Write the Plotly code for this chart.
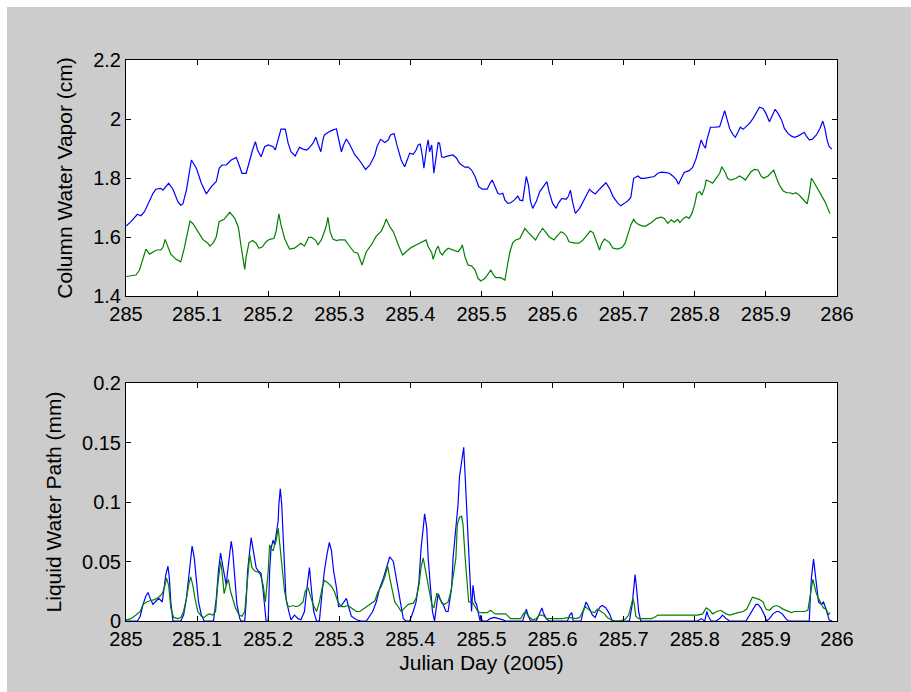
import plotly.graph_objects as go

# ---------------- data ----------------
# Top panel: column water vapor (cm)
cwv_blue_day = [
    285.000, 285.007, 285.016, 285.021, 285.026, 285.033, 285.038, 285.042, 285.049, 285.052,
    285.056, 285.060, 285.066, 285.073, 285.077, 285.080, 285.085, 285.089, 285.092, 285.099,
    285.106, 285.113, 285.120, 285.127, 285.131, 285.135, 285.141, 285.148, 285.155, 285.160,
    285.163, 285.169, 285.174, 285.178, 285.182, 285.185, 285.190, 285.195, 285.200, 285.207,
    285.210, 285.214, 285.218, 285.224, 285.228, 285.232, 285.238, 285.244, 285.249, 285.254,
    285.258, 285.263, 285.267, 285.270, 285.274, 285.277, 285.279, 285.284, 285.291, 285.296,
    285.299, 285.303, 285.306, 285.310, 285.315, 285.322, 285.328, 285.333, 285.337, 285.343,
    285.350, 285.353, 285.358, 285.364, 285.369, 285.372, 285.377, 285.381, 285.387, 285.392,
    285.395, 285.399, 285.404, 285.408, 285.411, 285.414, 285.417, 285.419, 285.423, 285.425,
    285.427, 285.430, 285.433, 285.436, 285.439, 285.441, 285.444, 285.447, 285.453, 285.460,
    285.465, 285.469, 285.477, 285.481, 285.486, 285.491, 285.495,
    285.496, 285.501, 285.508, 285.512, 285.515, 285.519, 285.523, 285.526, 285.530, 285.533,
    285.537, 285.541, 285.546, 285.551, 285.554, 285.558, 285.561, 285.563, 285.566, 285.569,
    285.572, 285.577, 285.582, 285.588, 285.592, 285.595, 285.600, 285.605, 285.608, 285.613,
    285.619, 285.622, 285.625, 285.628, 285.632, 285.638, 285.645, 285.652, 285.655, 285.660,
    285.666, 285.670, 285.675, 285.680, 285.685, 285.692, 285.696, 285.701, 285.706, 285.710,
    285.714, 285.720, 285.724, 285.729, 285.736, 285.743, 285.748, 285.753, 285.760, 285.764,
    285.769, 285.774, 285.777, 285.781, 285.785, 285.792, 285.797, 285.802, 285.806, 285.809,
    285.812, 285.815, 285.817, 285.822, 285.828, 285.835, 285.838, 285.842, 285.845, 285.849,
    285.854, 285.857, 285.861, 285.864, 285.868, 285.872, 285.877, 285.882, 285.887, 285.891,
    285.896, 285.900, 285.905, 285.909, 285.913, 285.917, 285.922, 285.926, 285.931, 285.936,
    285.940, 285.945, 285.950, 285.954, 285.957, 285.961, 285.965, 285.971, 285.976, 285.980,
    285.983, 285.986, 285.989, 285.993,
]
cwv_blue = [
    1.637, 1.652, 1.677, 1.672, 1.686, 1.725, 1.748, 1.762, 1.765, 1.759,
    1.771, 1.782, 1.762, 1.720, 1.708, 1.712, 1.759, 1.821, 1.861, 1.833,
    1.782, 1.746, 1.771, 1.788, 1.833, 1.844, 1.844, 1.861, 1.870, 1.838,
    1.816, 1.816, 1.861, 1.895, 1.923, 1.895, 1.872, 1.906, 1.912, 1.906,
    1.895, 1.934, 1.966, 1.966, 1.918, 1.889, 1.875, 1.904, 1.898, 1.895,
    1.903, 1.918, 1.938, 1.915, 1.889, 1.929, 1.946, 1.954, 1.963, 1.966,
    1.929, 1.889, 1.912, 1.932, 1.912, 1.878, 1.861, 1.844, 1.829, 1.844,
    1.878, 1.906, 1.931, 1.920, 1.929, 1.946, 1.951, 1.912, 1.861, 1.838,
    1.861, 1.884, 1.880, 1.895, 1.912, 1.915, 1.872, 1.833, 1.906, 1.929,
    1.889, 1.912, 1.816, 1.872, 1.920, 1.918, 1.872, 1.870, 1.875, 1.878,
    1.867, 1.850, 1.836, 1.838, 1.827, 1.805, 1.771,
    1.771, 1.762, 1.762, 1.782, 1.793, 1.771, 1.748, 1.745, 1.748, 1.725,
    1.714, 1.716, 1.725, 1.739, 1.725, 1.723, 1.776, 1.805, 1.776, 1.720,
    1.697, 1.720, 1.754, 1.776, 1.788, 1.754, 1.714, 1.697, 1.714, 1.731,
    1.728, 1.737, 1.759, 1.720, 1.680, 1.697, 1.731, 1.762, 1.754, 1.746,
    1.762, 1.771, 1.784, 1.765, 1.737, 1.714, 1.706, 1.714, 1.723, 1.734,
    1.799, 1.807, 1.799, 1.799, 1.801, 1.805, 1.816, 1.820, 1.818, 1.816,
    1.807, 1.795, 1.779, 1.799, 1.819, 1.825, 1.836, 1.867, 1.901, 1.929,
    1.912, 1.901, 1.929, 1.972, 1.972, 1.974, 1.997, 2.028, 2.002, 1.968,
    1.946, 1.938, 1.957, 1.972, 1.965, 1.974, 1.985, 2.002, 2.025, 2.040,
    2.036, 2.019, 1.991, 2.014, 2.033, 2.019, 1.997, 1.968, 1.951, 1.942,
    1.938, 1.942, 1.949, 1.955, 1.942, 1.929, 1.931, 1.946, 1.968, 1.993,
    1.968, 1.929, 1.906, 1.898,
]

cwv_green_day = [
    285.000, 285.007, 285.014, 285.019, 285.023, 285.028, 285.033, 285.038, 285.043, 285.049,
    285.052, 285.055, 285.059, 285.063, 285.070, 285.077, 285.082, 285.087, 285.090, 285.094,
    285.101, 285.108, 285.115, 285.118, 285.123, 285.127, 285.131, 285.138, 285.143, 285.146,
    285.153, 285.158, 285.162, 285.167, 285.169, 285.173, 285.178, 285.183, 285.187, 285.192,
    285.197, 285.202, 285.208, 285.211, 285.215, 285.218, 285.223, 285.230, 285.237, 285.242,
    285.246, 285.251, 285.257, 285.261, 285.267, 285.270, 285.275, 285.279, 285.282, 285.284,
    285.287, 285.291, 285.296, 285.300, 285.308, 285.315, 285.321, 285.326, 285.332, 285.338,
    285.345, 285.352, 285.359, 285.363, 285.366, 285.371, 285.376, 285.383, 285.389, 285.394,
    285.401, 285.408, 285.415, 285.422, 285.425, 285.430, 285.432, 285.436, 285.439, 285.442,
    285.445, 285.448, 285.453, 285.460, 285.467, 285.471, 285.473, 285.477, 285.481, 285.486,
    285.491, 285.495,
    285.499, 285.505, 285.510, 285.513, 285.516, 285.520, 285.527, 285.533, 285.537, 285.540,
    285.544, 285.548, 285.554, 285.558, 285.561, 285.566, 285.571, 285.576, 285.581, 285.586,
    285.591, 285.595, 285.602, 285.606, 285.612, 285.616, 285.620, 285.623, 285.631, 285.637,
    285.642, 285.648, 285.653, 285.657, 285.662, 285.666, 285.669, 285.673, 285.680, 285.685,
    285.692, 285.698, 285.702, 285.707, 285.710, 285.714, 285.717, 285.722, 285.727, 285.731,
    285.739, 285.746, 285.753, 285.757, 285.762, 285.767, 285.771, 285.776, 285.779, 285.784,
    285.788, 285.792, 285.796, 285.800, 285.803, 285.807, 285.810, 285.814, 285.816, 285.821,
    285.825, 285.830, 285.835, 285.838, 285.843, 285.846, 285.851, 285.858, 285.863, 285.868,
    285.871, 285.875, 285.879, 285.884, 285.889, 285.893, 285.897, 285.903, 285.908, 285.911,
    285.915, 285.919, 285.924, 285.929, 285.933, 285.938, 285.942, 285.947, 285.952, 285.958,
    285.961, 285.964, 285.968, 285.973, 285.978, 285.983, 285.987, 285.990,
]
cwv_green = [
    1.466, 1.468, 1.471, 1.488, 1.522, 1.559, 1.542, 1.550, 1.556, 1.556,
    1.565, 1.592, 1.567, 1.542, 1.525, 1.516, 1.562, 1.618, 1.654, 1.646,
    1.618, 1.592, 1.579, 1.569, 1.581, 1.601, 1.652, 1.660, 1.675, 1.684,
    1.663, 1.633, 1.567, 1.490, 1.533, 1.581, 1.588, 1.579, 1.562, 1.567,
    1.584, 1.592, 1.595, 1.618, 1.678, 1.641, 1.595, 1.559, 1.562, 1.573,
    1.579, 1.569, 1.599, 1.599, 1.588, 1.573, 1.592, 1.618, 1.641, 1.667,
    1.618, 1.593, 1.588, 1.590, 1.590, 1.567, 1.548, 1.545, 1.505, 1.550,
    1.573, 1.603, 1.620, 1.641, 1.661, 1.635, 1.618, 1.573, 1.539, 1.550,
    1.564, 1.573, 1.581, 1.590, 1.567, 1.547, 1.524, 1.556, 1.569, 1.547,
    1.539, 1.550, 1.562, 1.556, 1.550, 1.562, 1.573, 1.531, 1.505, 1.502,
    1.488, 1.460,
    1.451, 1.460, 1.475, 1.488, 1.475, 1.462, 1.462, 1.454, 1.511, 1.550,
    1.581, 1.590, 1.595, 1.615, 1.629, 1.615, 1.601, 1.590, 1.612, 1.629,
    1.615, 1.601, 1.590, 1.603, 1.618, 1.612, 1.601, 1.584, 1.579, 1.579,
    1.588, 1.607, 1.620, 1.615, 1.584, 1.556, 1.579, 1.593, 1.581, 1.562,
    1.559, 1.565, 1.579, 1.615, 1.641, 1.660, 1.649, 1.641, 1.637, 1.637,
    1.649, 1.663, 1.667, 1.663, 1.646, 1.658, 1.650, 1.660, 1.649, 1.663,
    1.669, 1.663, 1.680, 1.712, 1.748, 1.754, 1.742, 1.768, 1.793, 1.788,
    1.782, 1.799, 1.816, 1.838, 1.818, 1.799, 1.793, 1.799, 1.807, 1.799,
    1.793, 1.807, 1.821, 1.829, 1.827, 1.807, 1.799, 1.807, 1.818, 1.827,
    1.799, 1.776, 1.757, 1.750, 1.750, 1.746, 1.750, 1.742, 1.728, 1.712,
    1.748, 1.799, 1.784, 1.762, 1.742, 1.720, 1.697, 1.680,
]

# Bottom panel: liquid water path (mm)
lwp_blue_day = [
    285.000, 285.016, 285.020, 285.024, 285.028, 285.031, 285.034, 285.038, 285.041, 285.046,
    285.051, 285.054, 285.056, 285.059, 285.061, 285.063, 285.066, 285.077, 285.081, 285.085,
    285.088, 285.091, 285.093, 285.096, 285.099, 285.102, 285.106, 285.110, 285.123, 285.127,
    285.130, 285.133, 285.135, 285.138, 285.141, 285.143, 285.146, 285.148, 285.150, 285.153,
    285.156, 285.160, 285.162, 285.167, 285.169, 285.171, 285.174, 285.176, 285.178, 285.180,
    285.183, 285.186, 285.190, 285.193, 285.197, 285.200, 285.202, 285.204, 285.207, 285.209,
    285.211, 285.214, 285.215, 285.217, 285.219, 285.221, 285.223, 285.225, 285.229, 285.232,
    285.237, 285.242, 285.246, 285.251, 285.254, 285.258, 285.261, 285.264, 285.268, 285.272,
    285.275, 285.279, 285.283, 285.286, 285.289, 285.292, 285.296, 285.299, 285.303, 285.306,
    285.310, 285.313, 285.317, 285.324, 285.331, 285.338, 285.343, 285.347, 285.352, 285.357,
    285.362, 285.366, 285.371, 285.376, 285.379, 285.383, 285.386, 285.390, 285.394, 285.399,
    285.404, 285.408, 285.412, 285.415, 285.418, 285.420, 285.423, 285.425, 285.428, 285.431,
    285.434, 285.437, 285.439, 285.441, 285.444, 285.446, 285.450, 285.453, 285.455, 285.458,
    285.460, 285.464, 285.467, 285.469, 285.472, 285.475, 285.477, 285.479, 285.481, 285.484,
    285.486, 285.488, 285.491, 285.493, 285.495, 285.498,
    285.499, 285.501, 285.508, 285.512, 285.518, 285.525, 285.530, 285.534, 285.558, 285.561,
    285.563, 285.566, 285.569, 285.577, 285.581, 285.585, 285.587, 285.591, 285.595, 285.621,
    285.624, 285.627, 285.629, 285.640, 285.643, 285.647, 285.649, 285.653, 285.656, 285.660,
    285.663, 285.667, 285.670, 285.675, 285.680, 285.684, 285.708, 285.712, 285.714, 285.716,
    285.718, 285.721, 285.724, 285.804, 285.809, 285.814, 285.817, 285.819, 285.823, 285.830,
    285.835, 285.839, 285.844, 285.849, 285.872, 285.876, 285.881, 285.886, 285.889, 285.893,
    285.898, 285.901, 285.905, 285.910, 285.915, 285.918, 285.923, 285.928, 285.932, 285.961,
    285.962, 285.964, 285.967, 285.969, 285.972, 285.974, 285.978, 285.981, 285.984, 285.987,
    285.989, 285.993,
]
lwp_blue = [
    0.000, 0.000, 0.004, 0.014, 0.021, 0.024, 0.019, 0.014, 0.016, 0.019,
    0.016, 0.028, 0.039, 0.046, 0.036, 0.016, 0.000, 0.000, 0.005, 0.019,
    0.036, 0.053, 0.063, 0.053, 0.036, 0.016, 0.005, 0.000, 0.000, 0.019,
    0.042, 0.057, 0.050, 0.039, 0.030, 0.042, 0.059, 0.067, 0.059, 0.039,
    0.014, 0.002, 0.000, 0.000, 0.016, 0.042, 0.061, 0.070, 0.063, 0.057,
    0.045, 0.042, 0.040, 0.025, 0.000, 0.000, 0.042, 0.061, 0.068, 0.064,
    0.073, 0.084, 0.098, 0.111, 0.098, 0.073, 0.042, 0.019, 0.008, 0.001,
    0.005, 0.002, 0.001, 0.008, 0.025, 0.045, 0.025, 0.008, 0.000, 0.000,
    0.019, 0.042, 0.057, 0.066, 0.059, 0.042, 0.028, 0.012, 0.013, 0.016,
    0.019, 0.012, 0.004, 0.001, 0.000, 0.000, 0.004, 0.008, 0.016, 0.028,
    0.036, 0.045, 0.054, 0.050, 0.039, 0.025, 0.014, 0.002, 0.000, 0.000,
    0.008, 0.016, 0.033, 0.061, 0.078, 0.090, 0.078, 0.053, 0.030, 0.008,
    0.000, 0.014, 0.023, 0.019, 0.016, 0.014, 0.008, 0.008, 0.016, 0.028,
    0.053, 0.078, 0.098, 0.121, 0.135, 0.146, 0.122, 0.098, 0.064, 0.035,
    0.008, 0.030, 0.016, 0.014, 0.008, 0.000,
    0.005, 0.000, 0.000, 0.002, 0.003, 0.002, 0.001, 0.000, 0.000, 0.006,
    0.010, 0.004, 0.000, 0.000, 0.005, 0.011, 0.007, 0.002, 0.000, 0.000,
    0.005, 0.007, 0.000, 0.000, 0.008, 0.016, 0.014, 0.009, 0.005, 0.003,
    0.008, 0.012, 0.013, 0.011, 0.006, 0.000, 0.000, 0.014, 0.028, 0.039,
    0.028, 0.008, 0.000, 0.000, 0.002, 0.000, 0.008, 0.004, 0.000, 0.000,
    0.002, 0.005, 0.002, 0.000, 0.000, 0.004, 0.009, 0.014, 0.014, 0.011,
    0.005, 0.000, 0.002, 0.006, 0.008, 0.008, 0.006, 0.002, 0.000, 0.000,
    0.014, 0.036, 0.052, 0.042, 0.025, 0.016, 0.014, 0.016, 0.011, 0.004,
    0.001, 0.000,
]

lwp_green_day = [
    285.000, 285.007, 285.014, 285.020, 285.024, 285.029, 285.034, 285.040, 285.046, 285.051,
    285.054, 285.057, 285.060, 285.063, 285.067, 285.073, 285.077, 285.081, 285.085, 285.088,
    285.091, 285.094, 285.097, 285.101, 285.106, 285.110, 285.114, 285.117, 285.122, 285.126,
    285.129, 285.133, 285.135, 285.138, 285.141, 285.144, 285.147, 285.150, 285.154, 285.159,
    285.163, 285.167, 285.170, 285.174, 285.177, 285.181, 285.186, 285.189, 285.193, 285.196,
    285.200, 285.202, 285.204, 285.207, 285.209, 285.211, 285.214, 285.217, 285.220, 285.223,
    285.227, 285.230, 285.235, 285.239, 285.244, 285.249, 285.252, 285.256, 285.259, 285.263,
    285.268, 285.272, 285.276, 285.279, 285.284, 285.289, 285.293, 285.298, 285.303, 285.307,
    285.312, 285.317, 285.324, 285.329, 285.336, 285.343, 285.350, 285.354, 285.359, 285.364,
    285.368, 285.371, 285.375, 285.378, 285.383, 285.387, 285.392, 285.397, 285.404, 285.408,
    285.412, 285.415, 285.418, 285.420, 285.423, 285.426, 285.430, 285.433, 285.437, 285.440,
    285.444, 285.448, 285.453, 285.457, 285.460, 285.464, 285.466, 285.469, 285.472, 285.474,
    285.477, 285.480, 285.482, 285.487, 285.491, 285.495, 285.498,
    285.501, 285.508, 285.513, 285.519, 285.527, 285.534, 285.541, 285.555, 285.559, 285.562,
    285.566, 285.572, 285.577, 285.581, 285.586, 285.592, 285.598, 285.609, 285.614, 285.623,
    285.633, 285.638, 285.642, 285.646, 285.650, 285.654, 285.659, 285.663, 285.668, 285.673,
    285.677, 285.682, 285.688, 285.694, 285.700, 285.703, 285.707, 285.710, 285.713, 285.715,
    285.717, 285.721, 285.729, 285.739, 285.743, 285.748, 285.753, 285.764, 285.783, 285.798,
    285.804, 285.811, 285.816, 285.821, 285.825, 285.831, 285.836, 285.839, 285.844, 285.849,
    285.854, 285.861, 285.868, 285.873, 285.877, 285.881, 285.886, 285.891, 285.896, 285.900,
    285.905, 285.910, 285.915, 285.919, 285.924, 285.931, 285.936, 285.940, 285.945, 285.950,
    285.954, 285.959, 285.962, 285.964, 285.966, 285.969, 285.971, 285.974, 285.978, 285.981,
    285.985, 285.988, 285.990,
]
lwp_green = [
    0.001, 0.002, 0.005, 0.008, 0.014, 0.016, 0.017, 0.018, 0.020, 0.023,
    0.028, 0.036, 0.030, 0.011, 0.003, 0.002, 0.003, 0.008, 0.019, 0.030,
    0.037, 0.030, 0.019, 0.008, 0.004, 0.003, 0.005, 0.006, 0.005, 0.008,
    0.030, 0.050, 0.042, 0.023, 0.030, 0.035, 0.025, 0.019, 0.011, 0.005,
    0.004, 0.008, 0.030, 0.056, 0.045, 0.042, 0.041, 0.039, 0.030, 0.016,
    0.042, 0.064, 0.061, 0.059, 0.064, 0.067, 0.078, 0.059, 0.042, 0.025,
    0.013, 0.012, 0.013, 0.012, 0.013, 0.016, 0.025, 0.028, 0.022, 0.014,
    0.008, 0.016, 0.028, 0.034, 0.032, 0.029, 0.025, 0.016, 0.012, 0.012,
    0.013, 0.011, 0.008, 0.008, 0.011, 0.014, 0.017, 0.024, 0.029, 0.037,
    0.046, 0.036, 0.025, 0.016, 0.012, 0.008, 0.011, 0.014, 0.015, 0.019,
    0.030, 0.045, 0.053, 0.046, 0.036, 0.025, 0.014, 0.011, 0.023, 0.022,
    0.015, 0.014, 0.016, 0.025, 0.039, 0.053, 0.081, 0.087, 0.088, 0.081,
    0.053, 0.030, 0.016, 0.016, 0.012, 0.008, 0.007,
    0.007, 0.007, 0.009, 0.006, 0.006, 0.006, 0.002, 0.002, 0.006, 0.008,
    0.004, 0.001, 0.002, 0.005, 0.005, 0.002, 0.002, 0.002, 0.002, 0.003,
    0.002, 0.003, 0.008, 0.012, 0.010, 0.008, 0.007, 0.010, 0.008, 0.006,
    0.003, 0.001, 0.000, 0.000, 0.001, 0.002, 0.005, 0.012, 0.019, 0.014,
    0.004, 0.002, 0.002, 0.002, 0.003, 0.005, 0.005, 0.005, 0.005, 0.005,
    0.005, 0.006, 0.011, 0.009, 0.006, 0.008, 0.009, 0.008, 0.006, 0.005,
    0.006, 0.007, 0.008, 0.010, 0.015, 0.020, 0.019, 0.018, 0.016, 0.010,
    0.009, 0.012, 0.013, 0.012, 0.010, 0.008, 0.007, 0.008, 0.008, 0.008,
    0.008, 0.009, 0.019, 0.029, 0.035, 0.028, 0.023, 0.019, 0.015, 0.011,
    0.010, 0.005, 0.007,
]

x_tickvals = [285, 285.1, 285.2, 285.3, 285.4, 285.5, 285.6, 285.7, 285.8, 285.9, 286]
x_ticktext = ["285", "285.1", "285.2", "285.3", "285.4", "285.5", "285.6", "285.7", "285.8", "285.9", "286"]
cwv_tickvals = [1.4, 1.6, 1.8, 2.0, 2.2]
cwv_ticktext = ["1.4", "1.6", "1.8", "2", "2.2"]
lwp_tickvals = [0, 0.05, 0.1, 0.15, 0.2]
lwp_ticktext = ["0", "0.05", "0.1", "0.15", "0.2"]

BLUE = "#0000FF"
GREEN = "#008000"
FONT = "Liberation Sans, Arial, sans-serif"

# ---------------- figure ----------------
fig = go.Figure()
fig.add_trace(go.Scatter(x=cwv_blue_day, y=cwv_blue, mode="lines",
                         line=dict(color=BLUE, width=1.2), xaxis="x", yaxis="y"))
fig.add_trace(go.Scatter(x=cwv_green_day, y=cwv_green, mode="lines",
                         line=dict(color=GREEN, width=1.2), xaxis="x", yaxis="y"))
fig.add_trace(go.Scatter(x=lwp_blue_day, y=lwp_blue, mode="lines",
                         line=dict(color=BLUE, width=1.2), xaxis="x2", yaxis="y2"))
fig.add_trace(go.Scatter(x=lwp_green_day, y=lwp_green, mode="lines",
                         line=dict(color=GREEN, width=1.2), xaxis="x2", yaxis="y2"))

W, H = 911, 692
L, R, T, B = 126, 74, 60, 71
pw, ph = W - L - R, H - T - B

axis_common = dict(showline=True, linecolor="#000000", linewidth=1, mirror="allticks",
                   ticks="inside", ticklen=5, tickwidth=1, tickcolor="#000000",
                   showgrid=False, zeroline=False,
                   tickfont=dict(family=FONT, size=20, color="#000000"))

top_dom = [(H - B - 296) / ph, 1.0]
bot_dom = [0.0, (H - B - 383) / ph]

fig.update_layout(
    width=W, height=H,
    margin=dict(l=L, r=R, t=T, b=B, autoexpand=False),
    paper_bgcolor="#cccccc", plot_bgcolor="#ffffff",
    showlegend=False,
    hovermode=False,
    font=dict(family=FONT, size=20, color="#000000"),
    xaxis=dict(domain=[0, 1], anchor="y", range=[285, 286], tickmode="array",
               tickvals=x_tickvals, ticktext=x_ticktext, **axis_common),
    yaxis=dict(domain=top_dom, anchor="x", range=[1.4, 2.2], tickmode="array",
               tickvals=cwv_tickvals, ticktext=cwv_ticktext,
               title=dict(text="Column Water Vapor (cm)", font=dict(family=FONT, size=21), standoff=14),
               **axis_common),
    xaxis2=dict(domain=[0, 1], anchor="y2", range=[285, 286], tickmode="array",
                tickvals=x_tickvals, ticktext=x_ticktext,
                title=dict(text="Julian Day (2005)", font=dict(family=FONT, size=21), standoff=6),
                **axis_common),
    yaxis2=dict(domain=bot_dom, anchor="x2", range=[0, 0.2], tickmode="array",
                tickvals=lwp_tickvals, ticktext=lwp_ticktext,
                title=dict(text="Liquid Water Path (mm)", font=dict(family=FONT, size=21), standoff=14),
                **axis_common),
)

# thin white strip along the top and left edges of the figure window
fig.add_shape(type="rect", xref="paper", yref="paper",
              x0=-L / pw, x1=(7 - L) / pw, y0=-B / ph, y1=(H - B) / ph,
              fillcolor="#ffffff", line=dict(width=0), layer="above")
fig.add_shape(type="rect", xref="paper", yref="paper",
              x0=-L / pw, x1=(W - L) / pw, y0=(H - B - 7) / ph, y1=(H - B) / ph,
              fillcolor="#ffffff", line=dict(width=0), layer="above")

fig.write_html("out.html", config={"displayModeBar": False, "staticPlot": True},
               post_script="document.body.style.margin='0';document.body.style.overflow='hidden';")
